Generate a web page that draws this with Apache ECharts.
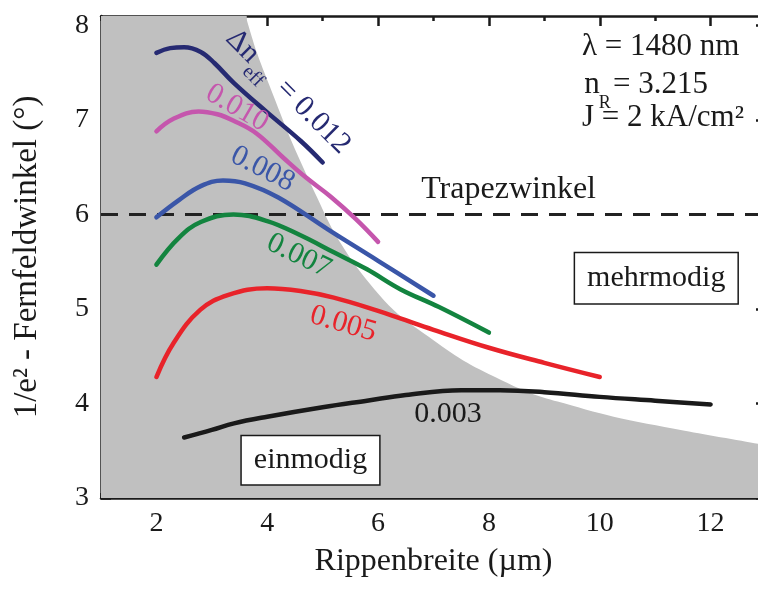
<!DOCTYPE html>
<html>
<head>
<meta charset="utf-8">
<script src="https://cdn.jsdelivr.net/npm/echarts@6/dist/echarts.min.js"></script>
<style>
  html, body { margin: 0; padding: 0; background: #fff; }
  #chart { width: 758px; height: 593px; }
</style>
</head>
<body>
<div id="chart"></div>
<script>
// Far-field angle (1/e²) versus rib width for several effective index steps
const xMajorTicks = [2, 4, 6, 8, 10, 12];
const xMinorTicks = [1, 3, 5, 7, 9, 11];
const yMajorTicks = [3, 4, 5, 6, 7, 8];
const yMinorTicks = [3.5, 4.5, 5.5, 6.5, 7.5];

// single-mode region: plateau at the top left, then the cutoff boundary
const singleModeTop = [[1, 8.1], [3.63, 8.1]];
const cutoffBoundary = [[3.61, 8.1], [3.82, 7.70], [4.11, 7.26], [4.45, 6.76], [4.90, 6.18],
  [5.20, 5.82], [5.62, 5.44], [6.28, 4.99], [7.00, 4.67], [7.61, 4.43], [8.21, 4.25],
  [8.70, 4.12], [9.24, 4.02], [10.25, 3.86], [11.46, 3.72], [13.0, 3.56]];

const trapezAngle = 6;

const dn012 = [[2, 7.71], [2.25, 7.76], [2.5, 7.77], [2.8, 7.72], [3.05, 7.60], [3.4, 7.39],
  [4.0, 7.08], [4.6, 6.78], [5.0, 6.55]];
const dn010 = [[2, 6.88], [2.3, 7.01], [2.76, 7.09], [3.1, 7.06], [3.4, 6.99], [3.8, 6.86],
  [4.29, 6.60], [4.7, 6.39], [5.14, 6.19], [5.6, 5.95], [6.0, 5.71]];
const dn008 = [[2, 5.97], [2.4, 6.15], [2.8, 6.30], [3.2, 6.36], [3.6, 6.33], [4.2, 6.18],
  [5.1, 5.84], [6.0, 5.51], [7.0, 5.14]];
const dn007 = [[2, 5.47], [2.4, 5.75], [2.8, 5.92], [3.39, 6.0], [4.0, 5.93], [4.6, 5.78],
  [5.2, 5.60], [5.8, 5.42], [6.4, 5.21], [7.1, 5.02], [8.0, 4.75]];
const dn005 = [[2, 4.28], [2.31, 4.64], [2.79, 4.99], [3.3, 5.15], [4.0, 5.22], [4.6, 5.19],
  [5.2, 5.12], [6.0, 4.98], [6.4, 4.90], [7.0, 4.78], [8.0, 4.59], [9.0, 4.43], [10, 4.28]];
const dn003 = [[2.5, 3.64], [3.0, 3.72], [3.4, 3.79], [4.0, 3.86], [5.0, 3.96], [5.8, 4.03],
  [6.5, 4.09], [7.5, 4.14], [8.2, 4.14], [9.0, 4.12], [10.0, 4.07], [11.0, 4.03], [12, 3.99]];

const FONT = '"Liberation Serif", "Times New Roman", serif';
const INK = '#1a1a1a';
const GRAY = '#c0c0c0';
const colors = {
  dn012: '#262a72', dn010: '#c556ad', dn008: '#3a56a8',
  dn007: '#13843f', dn005: '#e8232a', dn003: '#1a1a1a'
};

const chart = echarts.init(document.getElementById('chart'), null, { renderer: 'canvas' });

function axisBase(pos, min, max, majorLen) {
  return {
    type: 'value', position: pos, min: min, max: max,
    splitLine: { show: false },
    axisLine: { show: true, onZero: false, lineStyle: { color: INK, width: 2.5 } },
    axisTick: { show: true, inside: true, length: majorLen, lineStyle: { color: INK, width: 2.5 } },
    axisLabel: { show: false }
  };
}

function majorX(pos, labels) {
  const a = axisBase(pos, 1, 13, 10);
  a.axisTick.customValues = xMajorTicks;
  if (labels) {
    a.axisLabel = { show: true, customValues: xMajorTicks, fontSize: 28, fontFamily: FONT, color: INK, margin: 12 };
    a.name = 'Rippenbreite (µm)';
    a.nameLocation = 'middle';
    a.nameGap = 48;
    a.nameTextStyle = { fontSize: 32, fontFamily: FONT, color: INK };
  }
  return a;
}
function minorX(pos) {
  const a = axisBase(pos, 1, 13, 5);
  a.axisLine.show = false;
  a.axisTick.customValues = xMinorTicks;
  return a;
}
function majorY(pos, labels) {
  const a = axisBase(pos, 3, 8.1, 10);
  a.axisTick.customValues = yMajorTicks;
  if (labels) {
    a.axisLabel = { show: true, customValues: yMajorTicks, fontSize: 28, fontFamily: FONT, color: INK, margin: 12 };
    a.name = '1/e² - Fernfeldwinkel (°)';
    a.nameLocation = 'middle';
    a.nameGap = 57;
    a.nameTextStyle = { fontSize: 33, fontFamily: FONT, color: INK };
  }
  return a;
}
function minorY(pos) {
  const a = axisBase(pos, 3, 8.1, 5);
  a.axisLine.show = false;
  a.axisTick.customValues = yMinorTicks;
  return a;
}

function curve(name, data, color) {
  return {
    name: name, type: 'line', data: data, xAxisIndex: 0, yAxisIndex: 0,
    smooth: 0.4, showSymbol: false, symbol: 'none',
    lineStyle: { color: color, width: 4.5, cap: 'round', join: 'round' },
    z: 5, silent: true
  };
}
function shade(data, smooth) {
  return {
    type: 'line', data: data, xAxisIndex: 0, yAxisIndex: 0,
    smooth: smooth, showSymbol: false, symbol: 'none',
    lineStyle: { width: 0, color: GRAY },
    areaStyle: { color: GRAY, opacity: 1, origin: 'start' },
    z: 1, silent: true
  };
}

chart.setOption({
  animation: false,
  backgroundColor: '#fff',
  grid: { left: 101, top: 16, width: 665, height: 482, outerBoundsMode: 'none', containLabel: false },
  xAxis: [majorX('bottom', true), minorX('bottom'), majorX('top', false), minorX('top')],
  yAxis: [majorY('left', true), minorY('left'), majorY('right', false), minorY('right')],
  series: [
    shade(singleModeTop, false),
    shade(cutoffBoundary, 0.3),
    {
      name: 'Trapezwinkel', type: 'line', xAxisIndex: 0, yAxisIndex: 0,
      data: [[1, trapezAngle], [13, trapezAngle]],
      showSymbol: false, symbol: 'none',
      lineStyle: { color: '#222', width: 3, type: [17, 11] },
      z: 3, silent: true
    },
    curve('0.012', dn012, colors.dn012),
    curve('0.010', dn010, colors.dn010),
    curve('0.008', dn008, colors.dn008),
    curve('0.007', dn007, colors.dn007),
    curve('0.005', dn005, colors.dn005),
    curve('0.003', dn003, colors.dn003)
  ]
});

// annotations anchored in data coordinates
function at(x, y) {
  return chart.convertToPixel({ xAxisIndex: 0, yAxisIndex: 0 }, [x, y]);
}
function label(text, pos, opts) {
  const p = at(pos[0], pos[1]);
  opts = opts || {};
  return {
    type: 'text', x: p[0], y: p[1], z: 100,
    rotation: (opts.rot || 0) * Math.PI / 180,
    style: Object.assign({
      text: text, fill: opts.color || INK,
      fontSize: opts.size || 30, fontFamily: FONT,
      align: opts.align || 'center', verticalAlign: 'middle'
    }, opts.extra || {})
  };
}
function part(text, x, y, size) {
  return {
    type: 'text', x: x, y: y, z: 100,
    style: { text: text, fill: colors.dn012, fontSize: size, fontFamily: FONT, align: 'left', verticalAlign: 'middle' }
  };
}

const dnAnchor = at(3.45, 7.84);
const graphics = [
  // Δn_eff = 0.012, written along the curve
  {
    type: 'group', x: dnAnchor[0], y: dnAnchor[1], rotation: -45 * Math.PI / 180, z: 100,
    children: [
      part('Δn', -9, 0, 30),
      part('eff', 26, 14, 20),
      part('= 0.012', 62, 0, 30)
    ]
  },
  label('0.010', [3.455, 7.126], { rot: -30, color: colors.dn010 }),
  label('0.008', [3.915, 6.48], { rot: -27, color: colors.dn008 }),
  label('0.007', [4.57, 5.56], { rot: -26, color: colors.dn007 }),
  label('0.005', [5.37, 4.84], { rot: -16, color: colors.dn005 }),
  label('0.003', [7.26, 3.884], {}),
  label('Trapezwinkel', [8.355, 6.258], { size: 32 }),
  label('mehrmodig', [11.02, 5.326], { extra: { backgroundColor: '#fff', borderColor: INK, borderWidth: 1.5, padding: [10, 12] } }),
  label('einmodig', [4.78, 3.40], { extra: { backgroundColor: '#fff', borderColor: INK, borderWidth: 1.5, padding: [9, 12] } }),
  // operating parameters
  label('λ = 1480 nm', [9.68, 7.77], { align: 'left', size: 31 }),
  label('n', [9.72, 7.368], { align: 'left', size: 31 }),
  label('R', [9.98, 7.18], { align: 'left', size: 18 }),
  label('= 3.215', [10.24, 7.368], { align: 'left', size: 31 }),
  label('J = 2 kA/cm²', [9.68, 7.02], { align: 'left', size: 31 })
];
chart.setOption({ graphic: graphics });
</script>
</body>
</html>
